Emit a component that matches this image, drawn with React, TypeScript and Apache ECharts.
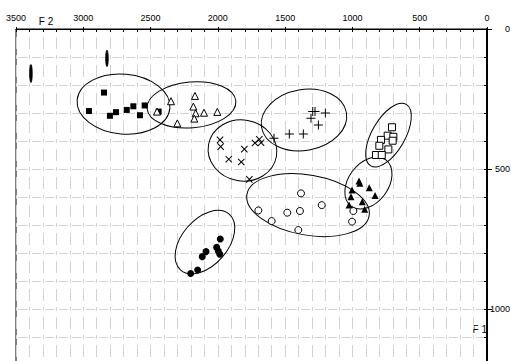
import React, { useEffect, useRef } from "react";
import * as echarts from "echarts";

// Formant data: [F2 (Hz), F1 (Hz)]
const filledSquares = [[2958, 293], [2846, 227], [2802, 310], [2757, 297], [2677, 289], [2628, 276], [2579, 308], [2544, 273], [2440, 295]];
const openTriangles = [[2452, 295], [2348, 258], [2301, 337], [2170, 239], [2182, 277], [2165, 301], [2175, 320], [2103, 299], [2004, 296]];
const plusPoints = [[1583, 390], [1469, 375], [1365, 375], [1308, 319], [1295, 295], [1278, 295], [1253, 343], [1201, 300]];
const crossPoints = [[1984, 396], [1979, 420], [1803, 429], [1919, 465], [1826, 475], [1724, 407], [1692, 394], [1679, 406], [1766, 537]];
const openSquares = [[706, 351], [738, 381], [696, 385], [701, 399], [788, 396], [800, 417], [733, 430], [825, 450], [782, 450]];
const filledTriangles = [[951, 543], [945, 551], [875, 567], [1003, 575], [832, 595], [1011, 599], [927, 617], [1025, 629], [909, 644]];
const openCircles = [[1382, 587], [1228, 629], [1699, 648], [1484, 656], [1390, 650], [1600, 686], [1402, 718], [993, 650], [1003, 688]];
const filledCircles = [[1982, 750], [2009, 780], [1997, 793], [1986, 804], [2088, 795], [2116, 813], [2150, 861], [2202, 873]];

// Dispersion ellipses: [centre F2, centre F1, semi-axis along F2 (Hz), semi-axis along F1 (Hz), angle (deg), filled 0/1]
const ellipses = [
  [2701, 268, 346, 107, -5, 0],
  [2196, 271, 331, 82, 5, 0],
  [1360, 325, 320, 109, 10, 0],
  [1817, 434, 256, 109, -10, 0],
  [732, 379, 264, 59, 60, 0],
  [881, 550, 215, 71, 53, 0],
  [1330, 629, 461, 107, -10, 0],
  [2096, 761, 275, 82, 49, 0],
  [2824, 105, 9, 29, 0, 1],
  [3389, 159, 9, 32, 0, 1],
];

const F2_MIN = 0, F2_MAX = 3500, F2_STEP = 500;
const F1_MIN = 0, F1_MAX = 1500, F1_STEP = 500;
const X_NAME = "F 2";
const Y_NAME = "F 1";

const FONT = "Liberation Sans, Arial, sans-serif";
const GRID = "#d2d2d2";
const PLUS = "path://M4,0H5V9H4ZM0,4H9V5H0Z";
const plain = (v: number) => String(v);

export default function App() {
  const ref = useRef<HTMLDivElement>(null);
  useEffect(() => {
    const chart = echarts.init(ref.current!, null, { renderer: "svg" });
    const vLine = { color: GRID, width: 1, type: [12, 6, 4, 6], dashOffset: 20 };
    const hLine = { color: GRID, width: 1, type: [9, 4.457], dashOffset: 11.23 };
    const scatter = (data: number[][], symbol: string, size: number, fill: string, extra: any = {}) => ({
      type: "scatter",
      data,
      symbol,
      symbolSize: size,
      itemStyle: { color: fill, borderColor: "#000", borderWidth: fill === "#fff" ? 1 : 0, opacity: 1 },
      z: 5,
      ...extra,
    });
    chart.setOption({
      animation: false,
      backgroundColor: "#fff",
      grid: {
        left: 16, top: 29, width: 471, height: 420, show: true, borderColor: "#000", borderWidth: 1,
        backgroundColor: "transparent", containLabel: false, outerBoundsMode: "none",
      },
      xAxis: [
        {
          type: "value", min: F2_MIN, max: F2_MAX, interval: F2_STEP, inverse: true, position: "top",
          axisLine: { show: true, lineStyle: { color: "#000", width: 1.2 } },
          axisTick: { show: true, inside: true, length: 3, lineStyle: { color: "#000" } },
          minorTick: { show: true, splitNumber: 5, length: 3, lineStyle: { color: "#000" } },
          axisLabel: { show: true, fontSize: 9, color: "#000", margin: 7, fontFamily: FONT, formatter: plain },
          splitLine: { show: true, lineStyle: vLine },
          minorSplitLine: { show: true, lineStyle: vLine },
        },
        {
          type: "value", min: F2_MIN, max: F2_MAX, interval: F2_STEP, inverse: true, position: "top",
          axisLine: { show: false },
          axisTick: { show: true, inside: false, length: 2, lineStyle: { color: "#000" } },
          axisLabel: { show: false },
          splitLine: { show: false },
        },
      ],
      yAxis: [
        {
          type: "value", min: F1_MIN, max: F1_MAX, interval: F1_STEP, inverse: true, position: "right",
          axisLine: { show: true, lineStyle: { color: "#000", width: 2 } },
          axisTick: { show: true, inside: true, length: 3, lineStyle: { color: "#000" } },
          minorTick: { show: true, splitNumber: 5, length: 3, lineStyle: { color: "#000" } },
          axisLabel: { show: false },
          splitLine: { show: true, lineStyle: hLine },
          minorSplitLine: { show: true, lineStyle: hLine },
        },
        {
          type: "value", min: F1_MIN, max: F1_MAX, interval: F1_STEP, inverse: true, position: "right",
          axisLine: { show: false },
          axisTick: { show: true, inside: false, length: 5, lineStyle: { color: "#000" } },
          axisLabel: {
            show: true, fontSize: 9, color: "#000", margin: 23, align: "right", fontFamily: FONT,
            formatter: plain, showMaxLabel: false,
          },
          splitLine: { show: false },
        },
      ],
      graphic: [
        { type: "text", x: 46, y: 21, style: { text: X_NAME, fill: "#000", font: `10px ${FONT}`, align: "center", verticalAlign: "middle" } },
        { type: "text", x: 487, y: 329, style: { text: Y_NAME, fill: "#000", font: `10px ${FONT}`, align: "right", verticalAlign: "middle" } },
      ],
      series: [
        {
          type: "custom",
          data: ellipses,
          z: 3,
          silent: true,
          renderItem: (params: any, api: any) => {
            const c = api.coord([api.value(0), api.value(1)]);
            const rx = Math.abs(api.size([api.value(2), 0])[0]);
            const ry = Math.abs(api.size([0, api.value(3)])[1]);
            const filled = api.value(5) === 1;
            return {
              type: "ellipse",
              x: c[0],
              y: c[1],
              rotation: (api.value(4) * Math.PI) / 180,
              shape: { cx: 0, cy: 0, rx, ry },
              style: { fill: filled ? "#000" : "none", stroke: "#000", lineWidth: 1 },
            };
          },
        },
        scatter(filledSquares, "rect", 6, "#000"),
        scatter(openTriangles, "triangle", 7, "#fff"),
        scatter(plusPoints, PLUS, 9, "#000"),
        scatter(crossPoints, PLUS, 9, "#000", { symbolRotate: 45 }),
        scatter(openSquares, "rect", 7, "#fff"),
        scatter(filledTriangles, "triangle", 7, "#000"),
        scatter(openCircles, "circle", 7, "#fff"),
        scatter(filledCircles, "circle", 7, "#000"),
      ],
    });
    return () => chart.dispose();
  }, []);
  return <div ref={ref} style={{ position: "fixed", left: 0, top: 0, width: 511, height: 361 }} />;
}
